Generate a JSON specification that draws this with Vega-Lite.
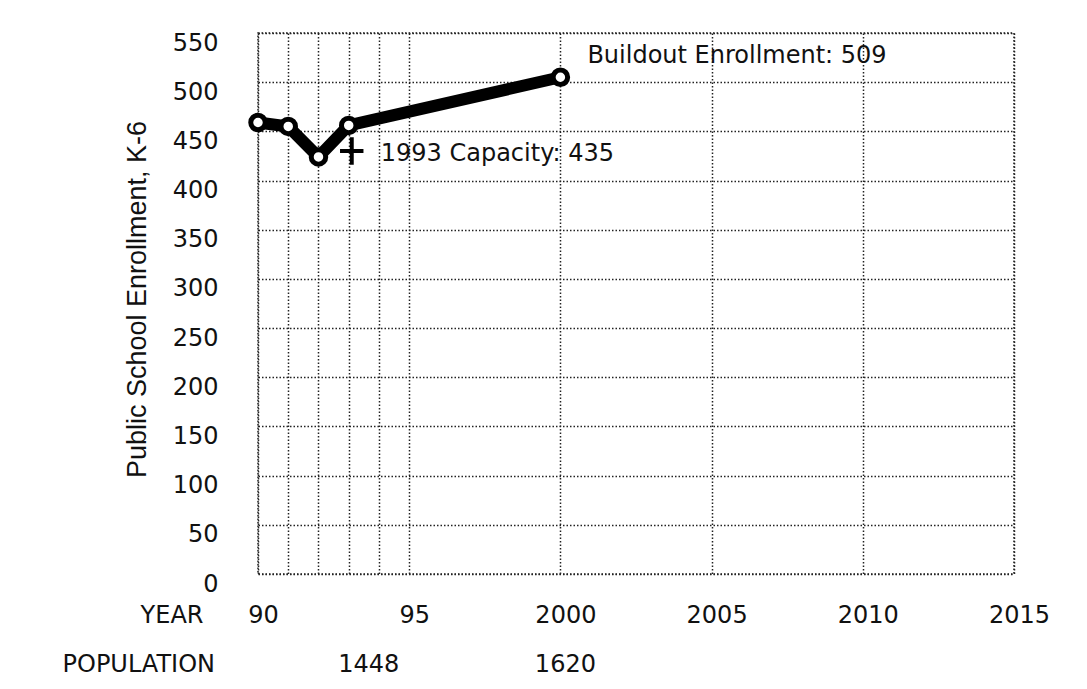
{
  "$schema": "https://vega.github.io/schema/vega-lite/v6.json",
  "width": 756,
  "height": 541,
  "autosize": {"type": "none"},
  "padding": {"left": 258, "top": 33, "right": 73, "bottom": 115},
  "background": "white",
  "config": {
    "font": "DejaVu Sans",
    "view": {"stroke": "#222", "strokeDash": [1.5, 2], "strokeWidth": 1.5},
    "axis": {
      "domain": false,
      "ticks": false,
      "tickSize": 0,
      "grid": true,
      "gridColor": "#222",
      "gridDash": [1.5, 2],
      "gridWidth": 1.5,
      "gridOpacity": 1,
      "labelFont": "DejaVu Sans",
      "labelFontSize": 24,
      "labelColor": "#111",
      "titleColor": "#111",
      "labelOverlap": false,
      "labelFlush": false
    }
  },
  "datasets": {
    "enrollment": [
      {"year": 1990, "enrollment": 459},
      {"year": 1991, "enrollment": 455},
      {"year": 1992, "enrollment": 424},
      {"year": 1993, "enrollment": 456},
      {"year": 2000, "enrollment": 505}
    ],
    "capacity": [
      {"year": 1993.1, "capacity": 430, "label": "1993 Capacity: 435"}
    ],
    "buildout": [
      {"year": 2000, "enrollment": 505, "label": "Buildout Enrollment: 509"}
    ],
    "population": [
      {"year": 1993.5, "population": "1448"},
      {"year": 2000, "population": "1620"}
    ]
  },
  "layer": [
    {
      "data": {"name": "enrollment"},
      "mark": {"type": "line", "color": "black", "strokeWidth": 12, "strokeCap": "round", "strokeJoin": "round"},
      "encoding": {
        "x": {
          "field": "year",
          "type": "quantitative",
          "scale": {"domain": [1990, 2015], "nice": false, "zero": false},
          "axis": {
            "values": [1990, 1991, 1992, 1993, 1994, 1995, 2000, 2005, 2010, 2015],
            "labelExpr": "datum.value == 1990 ? '90' : datum.value == 1995 ? '95' : datum.value >= 2000 ? '' + datum.value : ''",
            "labelBaseline": "middle",
            "labelPadding": 41,
            "labelOffset": 5,
            "title": "YEAR",
            "titleFont": "DejaVu Sans",
            "titleFontSize": 24,
            "titleFontWeight": "normal",
            "titleX": -55,
            "titleY": 41,
            "titleAlign": "right",
            "titleBaseline": "middle",
            "titleAnchor": "start"
          }
        },
        "y": {
          "field": "enrollment",
          "type": "quantitative",
          "scale": {"domain": [0, 550], "nice": false, "zero": true},
          "axis": {
            "values": [0, 50, 100, 150, 200, 250, 300, 350, 400, 450, 500, 550],
            "format": "d",
            "labelPadding": 40,
            "labelOffset": 10,
            "labelBaseline": "middle",
            "title": "Public School Enrollment, K-6",
            "titleFont": "Liberation Sans",
            "titleFontSize": 27,
            "titleFontWeight": "normal",
            "titleX": -121,
            "titleY": 266,
            "titleAngle": -90,
            "titleAlign": "center",
            "titleBaseline": "middle"
          }
        }
      }
    },
    {
      "data": {"name": "enrollment"},
      "mark": {"type": "point", "shape": "circle", "filled": true, "fill": "white", "stroke": "black", "strokeWidth": 5, "size": 210, "opacity": 1},
      "encoding": {
        "x": {"field": "year", "type": "quantitative"},
        "y": {"field": "enrollment", "type": "quantitative"}
      }
    },
    {
      "data": {"name": "capacity"},
      "mark": {"type": "point", "shape": "M-0.85,0H0.85M0,-1V1", "filled": false, "stroke": "black", "strokeWidth": 4, "size": 760, "opacity": 1},
      "encoding": {
        "x": {"field": "year", "type": "quantitative"},
        "y": {"field": "capacity", "type": "quantitative"}
      }
    },
    {
      "data": {"name": "capacity"},
      "mark": {"type": "text", "align": "left", "baseline": "middle", "dx": 29, "dy": 3, "fontSize": 24, "color": "#111", "font": "DejaVu Sans"},
      "encoding": {
        "x": {"field": "year", "type": "quantitative"},
        "y": {"field": "capacity", "type": "quantitative"},
        "text": {"field": "label"}
      }
    },
    {
      "data": {"name": "buildout"},
      "mark": {"type": "text", "align": "left", "baseline": "middle", "dx": 27, "dy": -21, "fontSize": 24, "color": "#111", "font": "DejaVu Sans"},
      "encoding": {
        "x": {"field": "year", "type": "quantitative"},
        "y": {"field": "enrollment", "type": "quantitative"},
        "text": {"field": "label"}
      }
    },
    {
      "data": {"name": "population"},
      "mark": {"type": "text", "align": "center", "baseline": "middle", "dx": 5, "dy": 91, "fontSize": 24, "color": "#111", "font": "DejaVu Sans"},
      "encoding": {
        "x": {"field": "year", "type": "quantitative"},
        "y": {"datum": 0, "type": "quantitative"},
        "text": {"field": "population"}
      }
    },
    {
      "data": {"values": [{}]},
      "mark": {"type": "text", "text": "POPULATION", "align": "right", "baseline": "middle", "dx": -43, "dy": 91, "fontSize": 24, "color": "#111", "font": "DejaVu Sans"},
      "encoding": {
        "x": {"datum": 1990, "type": "quantitative"},
        "y": {"datum": 0, "type": "quantitative"}
      }
    }
  ]
}
